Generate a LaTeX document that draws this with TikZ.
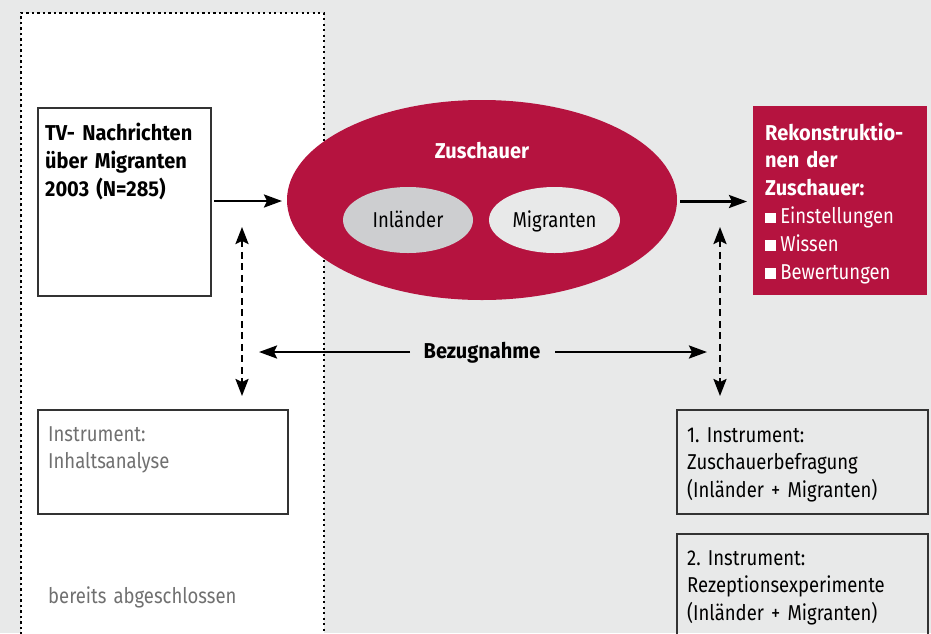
\documentclass[tikz,border=0pt]{standalone}
\usepackage{fontspec}
\setmainfont{Fira Sans}[FakeStretch=0.86, WordSpace=0.8]
\newfontfamily\bfam{Fira Sans}[FakeStretch=0.93, WordSpace=0.8]
\usetikzlibrary{arrows.meta,shapes.geometric}
\definecolor{bgc}{HTML}{E8E9E9}
\definecolor{crim}{HTML}{B5133F}
\definecolor{inl}{HTML}{CDCED0}
\definecolor{gtext}{HTML}{707070}
\definecolor{frm}{HTML}{333333}
\frenchspacing
\newcommand{\sq}{\rule{0.5em}{0.5em}\hspace{0.2em}}
\newcommand{\fs}{\fontsize{21.5}{27.8}\selectfont}
\newcommand{\bft}{\fontsize{21.5}{27.8}\selectfont\bfam\bfseries}
\tikzset{
  txt/.style={anchor=base west, inner sep=0pt, align=left, text width=#1, font=\fs},
  txt/.default=240pt,
  box/.style={draw=frm, line width=1.6pt},
  arr/.style={line width=2.4pt, -{Stealth[length=18pt,width=13pt,inset=3pt]}},
  darr/.style={line width=2.4pt, dash pattern=on 7pt off 4.5pt,
    {Stealth[length=17pt,width=13pt,inset=3pt]}-{Stealth[length=17pt,width=13pt,inset=3pt]}},
}
\begin{document}
\begin{tikzpicture}[x=1pt,y=-1pt]
\useasboundingbox (0,0) rectangle (931,633);
\fill[bgc] (0,0) rectangle (931,633);
% dotted white region
\fill[white] (21,13) rectangle (324,640);
\draw[line width=2.2pt, dash pattern=on 2.2pt off 3.3pt] (21,640) -- (21,13) -- (324,13) -- (324,640);

% TV box
\node[box, fill=white, minimum width=173pt, minimum height=188pt, anchor=north west, inner sep=0pt] (tv) at (37,107) {};
\node[txt=170pt, font=\bft] (tvt) at (45,140.5) {TV- Nachrichten\\über Migranten\\2003 (N=285)};

% ellipse
\node[ellipse, fill=crim, minimum width=390pt, minimum height=200pt, inner sep=0pt] (zu) at (482,200) {};
\node[font=\bft, text=white, anchor=base, inner sep=0pt] (zut) at (482,158) {Zuschauer};
\node[ellipse, fill=inl, minimum width=130pt, minimum height=66pt, inner sep=0pt] (inl) at (408,220) {};
\node[font=\fs, anchor=base, inner sep=0pt] (inlt) at (408,227) {Inländer};
\node[ellipse, fill=bgc, minimum width=131pt, minimum height=66pt, inner sep=0pt] (mig) at (554.5,220) {};
\node[font=\fs, anchor=base, inner sep=0pt] (migt) at (554.5,227) {Migranten};

% red box
\node[fill=crim, minimum width=174pt, minimum height=189pt, anchor=north west, inner sep=0pt] (rk) at (753,106) {};
\node[txt=165pt, text=white] (rkt) at (765,140) {{\bft Rekonstruktio-}\\{\bft nen der}\\{\bft Zuschauer:}\\\sq Einstellungen\\\sq Wissen\\\sq Bewertungen};

% main arrows
\coordinate (a1s) at (214,201);
\coordinate (a1e) at (282,201);
\coordinate (a2s) at (680,201.5);
\coordinate (a2e) at (747,201.5);
\draw[arr] (a1s) -- (a1e);
\draw[arr] (a2s) -- (a2e);

% dashed arrows
\coordinate (dl1) at (242,227);
\coordinate (dl2) at (242,396);
\coordinate (dr1) at (720,227);
\coordinate (dr2) at (720,396);
\draw[darr] (dl1) -- (dl2);
\draw[darr] (dr1) -- (dr2);

% Bezugnahme
\node[font=\bft, inner sep=0pt, anchor=base] (bez) at (482,358) {Bezugnahme};
\coordinate (bl) at (259,352);
\coordinate (br) at (707,352);
\coordinate (bls) at (410,352);
\coordinate (brs) at (555,352);
\draw[arr] (bls) -- (bl);
\draw[arr] (brs) -- (br);

% left instrument box
\node[box, fill=white, minimum width=250pt, minimum height=104pt, anchor=north west, inner sep=0pt] (ia) at (37,409) {};
\node[txt=240pt, text=gtext] (iat) at (48,441) {Instrument:\\Inhaltsanalyse};
\node[txt=240pt, text=gtext] (ba) at (48,603) {bereits abgeschlossen};

% right boxes
\node[box, minimum width=251pt, minimum height=104pt, anchor=north west, inner sep=0pt] (r1) at (676,409) {};
\node[txt=240pt] (r1t) at (687,442) {1. Instrument:\\Zuschauerbefragung\\(Inländer + Migranten)};
\node[box, minimum width=251pt, minimum height=110pt, anchor=north west, inner sep=0pt] (r2) at (676,533) {};
\node[txt=240pt] (r2t) at (687,565) {2. Instrument:\\Rezeptionsexperimente\\(Inländer + Migranten)};
\end{tikzpicture}
\end{document}
